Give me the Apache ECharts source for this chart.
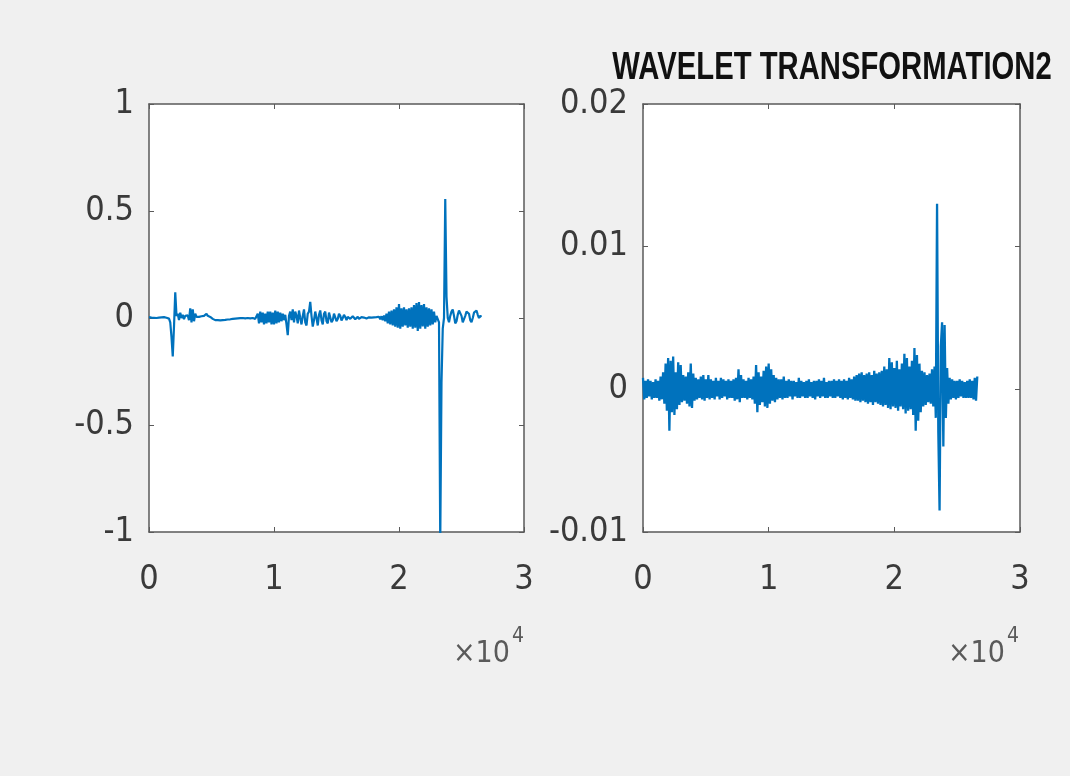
<!DOCTYPE html>
<html>
<head>
<meta charset="utf-8">
<title>WAVELET TRANSFORMATION2</title>
<script src="https://cdn.jsdelivr.net/npm/echarts@6/dist/echarts.min.js"></script>
<style>
  html, body { margin: 0; padding: 0; background: #f0f0f0; }
  #main { width: 1070px; height: 776px; }
</style>
</head>
<body>
<div id="main"></div>
<script>
// sample spacing of both traces (x axis is in samples, shown as x10^4)
var step = 100;
var xTicks = [0, 10000, 20000, 30000];
var titleText = 'WAVELET TRANSFORMATION2';

// left subplot : signal (267 samples)
var signalL = [
  0.004, 0.006, 0.002, 0.005, 0.001, 0.004, 0.000, -0.004, 0.002, -0.002,
  0.003, 0.006, 0.004, -0.002, 0.001, 0.003, -0.003, -0.02, -0.09, -0.18,
  -0.04, 0.12, 0.01, 0.02, -0.01, 0.025, 0.0, 0.015, -0.005, 0.01,
  0.005, 0.012, -0.01, 0.045, -0.02, 0.04, -0.015, 0.02, 0.005, 0.0,
  0.005, 0.002, 0.008, 0.003, 0.01, 0.006, 0.02, 0.01, 0.015, 0.005,
  0.0, -0.004, -0.008, -0.01, -0.012, -0.01, -0.008, -0.011, -0.007, -0.01,
  -0.006, -0.009, -0.004, -0.007, -0.002, -0.006, 0.0, -0.004, 0.002, -0.003,
  0.003, -0.002, 0.004, -0.001, 0.005, 0.0, 0.004, -0.002, 0.003, 0.0,
  0.004, -0.002, 0.005, 0.0, 0.003, -0.004, 0.002, 0.02, -0.025, 0.03,
  -0.02, 0.025, -0.03, 0.02, -0.025, 0.03, -0.02, 0.03, -0.03, 0.025,
  -0.03, 0.035, -0.025, 0.03, -0.02, 0.025, -0.015, 0.02, -0.01, 0.015,
  -0.03, -0.08, 0.01, 0.03, -0.01, 0.04, -0.02, 0.03, 0.01, -0.025,
  0.035, 0.0, -0.03, 0.01, 0.04, -0.02, -0.035, 0.02, 0.03, 0.075,
  0.01, -0.04, -0.01, 0.03, 0.0, -0.035, 0.015, 0.035, -0.01, -0.03,
  0.02, 0.03, -0.015, -0.025, 0.025, 0.02, -0.02, -0.01, 0.02, 0.015,
  -0.015, -0.005, 0.02, 0.01, -0.012, 0.0, 0.015, 0.005, -0.01, 0.005,
  0.012, -0.004, -0.008, 0.008, 0.006, -0.006, 0.0, 0.006, -0.004, 0.0,
  0.004, -0.003, 0.002, 0.003, -0.002, 0.001, 0.003, -0.001, 0.002, 0.0,
  0.003, -0.002, 0.004, -0.004, 0.006, -0.006, 0.008, -0.01, 0.012, -0.015,
  0.02, -0.025, 0.03, -0.03, 0.035, -0.035, 0.04, -0.04, 0.05, -0.045,
  0.065, -0.05, 0.045, -0.04, 0.05, -0.035, 0.04, -0.045, 0.045, -0.04,
  0.05, -0.05, 0.06, -0.045, 0.07, -0.06, 0.075, -0.05, 0.06, -0.04,
  0.065, -0.05, 0.05, -0.04, 0.045, -0.035, 0.04, -0.03, 0.03, -0.02,
  0.01, -0.005, -0.02, -1.05, -0.3, -0.05, 0.0, 0.556, 0.1, 0.0,
  -0.02, 0.01, 0.03, 0.04, 0.01, -0.025, -0.015, 0.015, 0.035, 0.04,
  0.01, -0.02, -0.015, 0.01, 0.03, 0.035, 0.02, -0.01, -0.02, 0.0,
  0.025, 0.03, 0.035, 0.015, 0.0, 0.01, 0.005
];

// right subplot : wavelet coefficients (267 samples)
var signalR = [
  0.0008, -0.0007, 0.0006, -0.0006, 0.0007, -0.0005, 0.0006, -0.0007, 0.0005, -0.0006,
  0.0007, -0.0006, 0.0006, -0.0008, 0.0009, -0.0007, 0.0012, -0.0010, 0.0018, -0.0015,
  0.0022, -0.0029, 0.0020, -0.0016, 0.0023, -0.0018, 0.0012, -0.0014, 0.0019, -0.0011,
  0.0017, -0.0009, 0.0010, -0.0008, 0.0009, -0.0010, 0.0012, -0.0012, 0.0018, -0.0013,
  0.0011, -0.0008, 0.0008, -0.0007, 0.0007, -0.0006, 0.0009, -0.0007, 0.0010, -0.0008,
  0.0007, -0.0006, 0.0010, -0.0007, 0.0007, -0.0006, 0.0006, -0.0007, 0.0008, -0.0005,
  0.0006, -0.0007, 0.0008, -0.0006, 0.0007, -0.0005, 0.0006, -0.0007, 0.0007, -0.0006,
  0.0006, -0.0006, 0.0007, -0.0008, 0.0008, -0.0007, 0.0014, -0.0009, 0.0010, -0.0006,
  0.0007, -0.0006, 0.0006, -0.0007, 0.0008, -0.0006, 0.0007, -0.0007, 0.0009, -0.0010,
  0.0017, -0.0016, 0.0012, -0.0011, 0.0009, -0.0009, 0.0013, -0.0012, 0.0016, -0.0013,
  0.0018, -0.0010, 0.0014, -0.0008, 0.0010, -0.0009, 0.0008, -0.0007, 0.0007, -0.0006,
  0.0007, -0.0007, 0.0009, -0.0006, 0.0006, -0.0006, 0.0007, -0.0005, 0.0006, -0.0007,
  0.0006, -0.0005, 0.0005, -0.0006, 0.0008, -0.0006, 0.0006, -0.0005, 0.0005, -0.0006,
  0.0006, -0.0006, 0.0007, -0.0005, 0.0005, -0.0006, 0.0006, -0.0007, 0.0006, -0.0005,
  0.0007, -0.0006, 0.0006, -0.0005, 0.0008, -0.0006, 0.0005, -0.0006, 0.0006, -0.0005,
  0.0006, -0.0006, 0.0007, -0.0006, 0.0006, -0.0005, 0.0007, -0.0006, 0.0006, -0.0007,
  0.0007, -0.0006, 0.0006, -0.0007, 0.0008, -0.0006, 0.0007, -0.0007, 0.0009, -0.0008,
  0.0010, -0.0008, 0.0011, -0.0009, 0.0012, -0.0008, 0.0010, -0.0009, 0.0011, -0.0010,
  0.0012, -0.0009, 0.0010, -0.0011, 0.0013, -0.0009, 0.0011, -0.0010, 0.0012, -0.0011,
  0.0013, -0.0012, 0.0016, -0.0011, 0.0014, -0.0013, 0.0022, -0.0014, 0.0019, -0.0012,
  0.0015, -0.0013, 0.0020, -0.0015, 0.0014, -0.0012, 0.0018, -0.0014, 0.0025, -0.0017,
  0.0022, -0.0015, 0.0016, -0.0014, 0.0020, -0.0018, 0.0029, -0.0029, 0.0024, -0.0022,
  0.0018, -0.0016, 0.0013, -0.0012, 0.0012, -0.0011, 0.0010, -0.0009, 0.0011, -0.0010,
  0.0014, -0.0012, 0.0016, -0.0020, 0.0130, -0.0030, -0.0085, 0.0030, 0.0047, -0.0040,
  0.0045, -0.0020, 0.0015, -0.0010, 0.0008, -0.0007, 0.0007, -0.0006, 0.0006, -0.0007,
  0.0006, -0.0006, 0.0007, -0.0005, 0.0006, -0.0006, 0.0005, -0.0006, 0.0006, -0.0006,
  0.0007, -0.0006, 0.0006, -0.0007, 0.0008, -0.0008, 0.0009
];

function toPairs(arr) {
  return arr.map(function (v, i) { return [i * step, v]; });
}

var font = '"DejaVu Sans Condensed", "Liberation Sans", sans-serif';
var titleFont = '"Liberation Sans", Arial, sans-serif';
var lineBlue = '#0072BD';
var boxColor = '#5a5a5a';

var myChart = echarts.init(document.getElementById('main'));

function xAx(grid, pos) {
  return {
    type: 'value', gridIndex: grid, position: pos,
    min: xTicks[0], max: xTicks[xTicks.length - 1], interval: 10000,
    axisLine: { show: true, onZero: false, lineStyle: { color: boxColor, width: 1.5 } },
    axisTick: { show: true, inside: true, length: 5, lineStyle: { color: boxColor } },
    splitLine: { show: false },
    axisLabel: pos === 'bottom' ? {
      show: true, fontFamily: font, fontSize: 34, color: '#3a3a3a', margin: 31,
      formatter: function (v) { return String(v / 10000); }
    } : { show: false }
  };
}

function yAx(grid, pos, min, max, interval) {
  return {
    type: 'value', gridIndex: grid, position: pos,
    min: min, max: max, interval: interval,
    axisLine: { show: true, onZero: false, lineStyle: { color: boxColor, width: 1.5 } },
    axisTick: { show: true, inside: true, length: 5, lineStyle: { color: boxColor } },
    splitLine: { show: false },
    axisLabel: pos === 'left' ? {
      show: true, fontFamily: font, fontSize: 34, color: '#3a3a3a', margin: 15
    } : { show: false }
  };
}

var option = {
  backgroundColor: '#f0f0f0',
  animation: false,
  grid: [
    { left: 149, top: 104, width: 375, height: 428, show: true, backgroundColor: '#fff', borderWidth: 0 },
    { left: 643, top: 104, width: 377, height: 428, show: true, backgroundColor: '#fff', borderWidth: 0 }
  ],
  xAxis: [xAx(0, 'bottom'), xAx(0, 'top'), xAx(1, 'bottom'), xAx(1, 'top')],
  yAxis: [
    yAx(0, 'left', -1, 1, 0.5), yAx(0, 'right', -1, 1, 0.5),
    yAx(1, 'left', -0.01, 0.02, 0.01), yAx(1, 'right', -0.01, 0.02, 0.01)
  ],
  series: [
    {
      type: 'line', xAxisIndex: 0, yAxisIndex: 0, data: toPairs(signalL),
      showSymbol: false, clip: true, lineStyle: { color: lineBlue, width: 2.2 }
    },
    {
      type: 'line', xAxisIndex: 2, yAxisIndex: 2, data: toPairs(signalR),
      showSymbol: false, clip: true, lineStyle: { color: lineBlue, width: 2.3 }
    }
  ],
  graphic: [
    // subplot title, squeezed like the original figure
    {
      type: 'text', x: 832, y: 69, scaleX: 0.77,
      style: { text: titleText, font: 'bold 38px ' + titleFont, fill: '#111',
               textAlign: 'center', textVerticalAlign: 'middle' }
    },
    { type: 'text', left: 453, top: 639, style: { text: '×10', font: '30px ' + font, fill: '#5a5a5a' } },
    { type: 'text', left: 512, top: 626, style: { text: '4', font: '21px ' + font, fill: '#5a5a5a' } },
    { type: 'text', left: 948, top: 639, style: { text: '×10', font: '30px ' + font, fill: '#5a5a5a' } },
    { type: 'text', left: 1007, top: 626, style: { text: '4', font: '21px ' + font, fill: '#5a5a5a' } }
  ]
};
myChart.setOption(option);
</script>
</body>
</html>
